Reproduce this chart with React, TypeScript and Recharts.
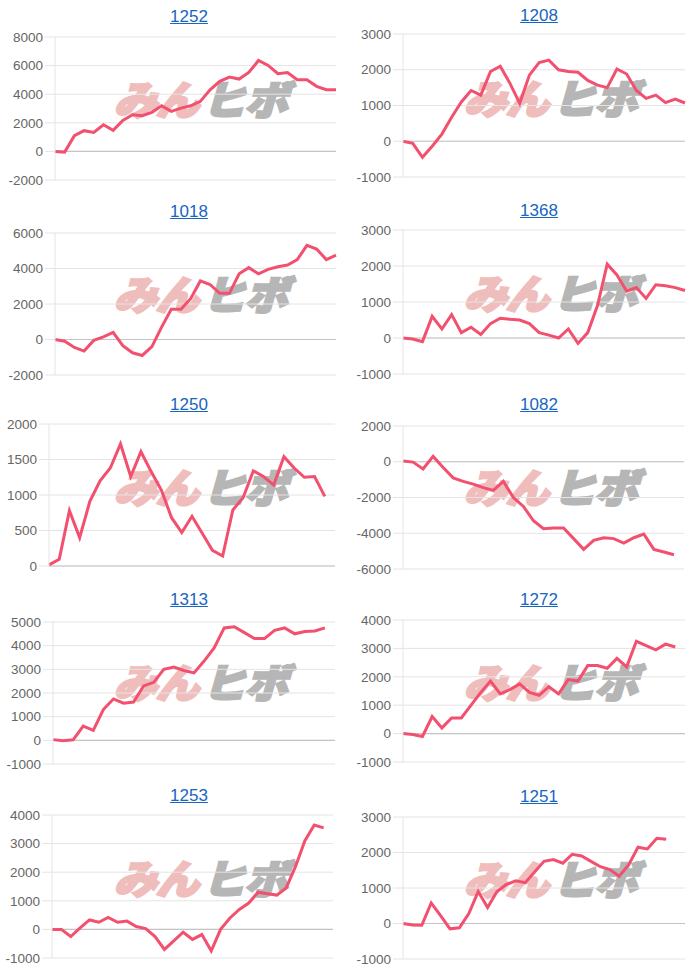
import React from "react";
import { LineChart, Line, XAxis, YAxis, CartesianGrid, ReferenceLine } from "recharts";

const titles = ["1252", "1208", "1018", "1368", "1250", "1082", "1313", "1272", "1253", "1251"];

// number of days on each x axis (some series stop short)
const dayCounts = [30, 30, 30, 30, 29, 29, 29, 30, 31, 31];

const s1252 = [0, -50, 1100, 1450, 1330, 1860, 1470, 2170, 2560, 2500, 2730, 3190, 2800, 3030, 3190, 3500, 4310, 4900, 5200, 5060, 5520, 6360, 6010, 5430, 5520, 5010, 5010, 4550, 4310, 4310];
const s1208 = [0, -60, -450, -140, 200, 670, 1100, 1420, 1290, 1950, 2100, 1620, 1060, 1850, 2200, 2270, 2000, 1950, 1930, 1700, 1570, 1500, 2020, 1880, 1420, 1200, 1290, 1080, 1180, 1070];
const s1018 = [0, -100, -450, -650, -50, 150, 400, -350, -750, -900, -400, 700, 1700, 1700, 2300, 3300, 3100, 2600, 2600, 3700, 4050, 3700, 3950, 4100, 4200, 4500, 5300, 5100, 4500, 4750];
const s1368 = [0, -30, -100, 600, 250, 650, 150, 300, 100, 400, 550, 520, 500, 400, 150, 80, 0, 250, -150, 150, 900, 2050, 1750, 1300, 1400, 1100, 1480, 1450, 1400, 1320];
const s1250 = [15, 95, 780, 400, 910, 1200, 1380, 1720, 1260, 1610, 1330, 1070, 680, 470, 700, 460, 220, 140, 790, 960, 1340, 1260, 1140, 1540, 1380, 1250, 1260, 980];
const s1082 = [40, -20, -400, 300, -320, -900, -1100, -1250, -1450, -1600, -1100, -2000, -2500, -3300, -3750, -3700, -3700, -4300, -4900, -4400, -4250, -4300, -4550, -4250, -4050, -4900, -5050, -5200];
const s1313 = [30, -20, 20, 600, 420, 1300, 1750, 1570, 1620, 2300, 2450, 3000, 3100, 2950, 2850, 3350, 3900, 4750, 4800, 4550, 4300, 4300, 4650, 4750, 4500, 4600, 4620, 4750];
const s1272 = [0, -30, -100, 600, 200, 550, 550, 1000, 1450, 1850, 1400, 1550, 1750, 1450, 1350, 1650, 1400, 1900, 1850, 2400, 2400, 2300, 2650, 2350, 3250, 3100, 2950, 3150, 3050];
const s1253 = [0, 0, -250, 50, 330, 250, 420, 250, 290, 100, 30, -250, -700, -400, -100, -350, -180, -750, 0, 400, 700, 920, 1300, 1250, 1200, 1450, 2200, 3100, 3650, 3550];
const s1251 = [0, -40, -50, 580, 220, -150, -120, 280, 900, 450, 900, 1100, 1200, 1150, 1450, 1750, 1800, 1700, 1950, 1900, 1750, 1600, 1520, 1330, 1650, 2150, 2100, 2400, 2370];

const series = [s1252, s1208, s1018, s1368, s1250, s1082, s1313, s1272, s1253, s1251];

const yTicks = [
  [-2000, 0, 2000, 4000, 6000, 8000],
  [-1000, 0, 1000, 2000, 3000],
  [-2000, 0, 2000, 4000, 6000],
  [-1000, 0, 1000, 2000, 3000],
  [0, 500, 1000, 1500, 2000],
  [-6000, -4000, -2000, 0, 2000],
  [-1000, 0, 1000, 2000, 3000, 4000, 5000],
  [-1000, 0, 1000, 2000, 3000, 4000],
  [-1000, 0, 1000, 2000, 3000, 4000],
  [-1000, 0, 1000, 2000, 3000],
];

// plot box per panel: left, right, top, bottom, title centre y
const layout = [
  [55, 336, 37, 180, 17],
  [403, 685, 34, 177, 16],
  [55, 336, 233, 375, 212],
  [403, 685, 230, 374, 211],
  [49, 335, 424, 566, 405],
  [403, 684, 426, 569, 405],
  [53, 335, 622, 764, 600],
  [403, 685, 620, 762, 600],
  [52, 333, 815, 958, 796],
  [403, 685, 817, 959, 797],
];

const FONT = "'Liberation Sans', Arial, Helvetica, sans-serif";
const LINE = "#f2506e";

function YTick(props: any) {
  const { x, y, payload } = props;
  return (
    <text
      x={x}
      y={y}
      dy={4.7}
      textAnchor="end"
      style={{ fontSize: "13.5px", fontFamily: "Liberation Sans", fill: "#666" }}
    >
      {String(payload.value)}
    </text>
  );
}

function Panel({ i }: { i: number }) {
  const [left, right, top, bottom, titleY] = layout[i];
  const panelX = i % 2 === 0 ? 0 : 350;
  const yw = left - panelX;
  const mt = 12;
  const mb = 12;
  const mr = 4;
  const ticks = yTicks[i];
  const data = Array.from({ length: dayCounts[i] }, (_, k) => ({
    d: k + 1,
    v: k < series[i].length ? series[i][k] : null,
  }));

  return (
    <>
      <div
        style={{
          position: "absolute",
          left: panelX + 14,
          top: titleY - 11,
          width: 350,
          textAlign: "center",
          fontFamily: FONT,
          fontSize: 17,
          lineHeight: "22px",
        }}
      >
        <a href="#" style={{ color: "#1766c0", textDecoration: "underline" }}>
          {titles[i]}
        </a>
      </div>

      {/* watermark */}
      <div
        style={{
          position: "absolute",
          left: panelX + 205 - 95,
          top: titleY + 81 - 22,
          width: 190,
          height: 44,
          display: "flex",
          alignItems: "center",
          justifyContent: "center",
          fontFamily: "'Noto Sans CJK JP', sans-serif",
          fontWeight: 900,
          fontSize: 40,
          letterSpacing: -1,
          transform: "skewX(-16deg) scaleX(1.08)",
          whiteSpace: "nowrap",
        }}
      >
        <span style={{ color: "#f0bdbd", WebkitTextStroke: "2.5px #f0bdbd" }}>みん</span>
        <span style={{ color: "#b6b6b6", WebkitTextStroke: "2.5px #b6b6b6", marginLeft: 4 }}>ヒボ</span>
      </div>

      <div style={{ position: "absolute", left: panelX, top: top - mt }}>
        <LineChart
          width={right - panelX + mr}
          height={bottom - top + mt + mb}
          data={data}
          margin={{ top: mt, right: mr, bottom: mb, left: 0 }}
          style={{ overflow: "visible" }}
        >
          <CartesianGrid vertical={false} stroke="#e4e4e4" />
          <XAxis dataKey="d" hide />
          <YAxis
            width={yw}
            domain={[ticks[0], ticks[ticks.length - 1]]}
            ticks={ticks}
            interval={0}
            tickSize={10}
            tickMargin={2}
            axisLine={{ stroke: "#e4e4e4" }}
            tickLine={{ stroke: "#e4e4e4" }}
            tick={<YTick />}
          />
          <ReferenceLine y={0} stroke="#c4c4c4" strokeWidth={1.2} />
          <Line
            type="linear"
            dataKey="v"
            stroke={LINE}
            strokeWidth={3}
            dot={false}
            isAnimationActive={false}
          />
        </LineChart>
      </div>
    </>
  );
}

export default function App() {
  return (
    <div
      style={{
        position: "absolute",
        left: 0,
        top: 0,
        width: 700,
        height: 975,
        background: "#fff",
        overflow: "hidden",
      }}
    >
      {titles.map((_, i) => (
        <Panel key={i} i={i} />
      ))}
    </div>
  );
}
